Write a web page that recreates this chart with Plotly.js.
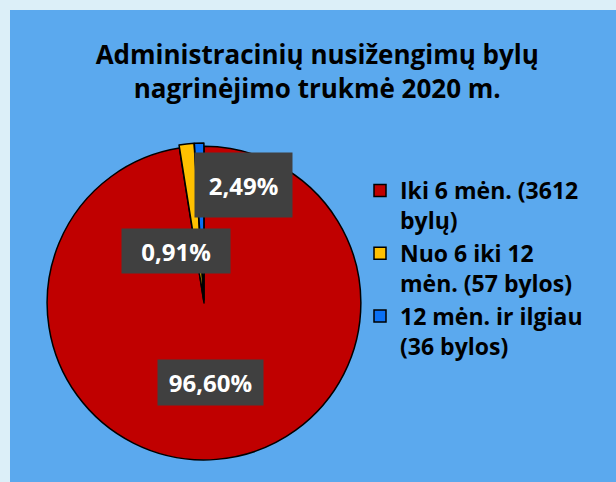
<!DOCTYPE html>
<html>
<head>
<meta charset="utf-8">
<script src="https://cdn.plot.ly/plotly-3.0.1.min.js"></script>
<style>
  html, body { margin: 0; padding: 0; background: #DCEFF8; }
  #chart { position: absolute; left: 10px; top: 10px; width: 606px; height: 472px; }
</style>
</head>
<body>
<div id="chart"></div>
<script>
// Data
const categories = [
  "Iki 6 mėn. (3612<br>bylų)",
  "Nuo 6 iki 12<br>mėn. (57 bylos)",
  "12 mėn. ir ilgiau<br>(36 bylos)"
];
const caseCounts = [3612, 57, 36];
const labelTexts = ["96,60%", "0,91%", "2,49%"];
const sliceColors = ["#C00000", "#FFC000", "#0A70F5"];

const FONT = "'Open Sans', Lato, sans-serif";
const W = 606, H = 472;
const mL = 34, mT = 133, plotSize = 320;
const px = X => (X - 10 - mL) / plotSize;          // absolute px -> paper x
const py = Y => 1 - (Y - 10 - mT) / plotSize;      // absolute px -> paper y

// label box placement (absolute page px centre, width, height)
const boxSpec = [
  { cx: 210.5, cy: 382.5, w: 105, h: 45 },
  { cx: 176,   cy: 251,   w: 108, h: 44 },
  { cx: 243.5, cy: 185,   w: 97,  h: 64 }
];

const annotations = labelTexts.map((t, i) => ({
  text: t,
  xref: "paper", yref: "paper",
  x: px(boxSpec[i].cx), y: py(boxSpec[i].cy),
  xanchor: "center", yanchor: "middle",
  showarrow: false,
  width: boxSpec[i].w, height: boxSpec[i].h,
  bgcolor: "#404040",
  borderpad: 0,
  font: { family: FONT, size: 24, color: "#FFFFFF", weight: "bold" }
}));

const trace = {
  type: "pie",
  labels: categories,
  values: caseCounts,
  sort: false,
  direction: "clockwise",
  rotation: 0,
  pull: [0, 0.02, 0.02],
  marker: { colors: sliceColors, line: { color: "#000000", width: 1.5 } },
  textinfo: "none",
  hoverinfo: "label+value",
  domain: { x: [0, 1], y: [0, 1] }
};

const layout = {
  width: W, height: H,
  paper_bgcolor: "#5BA9EE",
  plot_bgcolor: "rgba(0,0,0,0)",
  margin: { l: mL, t: mT, r: W - mL - plotSize, b: H - mT - plotSize, pad: 0 },
  title: {
    text: "Administracinių nusižengimų bylų<br>nagrinėjimo trukmė 2020 m.",
    x: 0.507, xref: "container", xanchor: "center",
    y: 1 - 54 / H, yref: "container", yanchor: "middle",
    font: { family: FONT, size: 26, color: "#000000", weight: "bold" }
  },
  showlegend: true,
  legend: {
    x: px(400) - 40 / plotSize, xanchor: "left",
    y: py(169), yanchor: "top",
    valign: "top",
    bgcolor: "rgba(0,0,0,0)",
    font: { family: FONT, size: 23, color: "#000000", weight: "bold" },
    tracegroupgap: 0
  },
  annotations: annotations
};

Plotly.newPlot("chart", [trace], layout, { displayModeBar: false, staticPlot: true });
</script>
</body>
</html>
